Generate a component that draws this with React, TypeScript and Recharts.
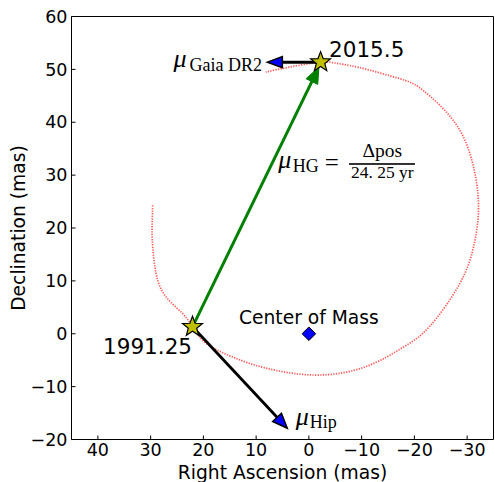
import React from 'react';
import { ScatterChart, Scatter, XAxis, YAxis, Curve } from 'recharts';

// Orbit (red dotted) — RA / Dec in mas
const orbitRA = [29.62, 29.7, 29.68, 28.98, 27.09, 24.01, 22.06, 19.52, 14.55, 8.18, -1.28, -10.74, -17.8, -22.9, -28.5, -31.22, -32.16, -31.22, -28.95, -25.17, -20.82, -17.03, -9.47, -4.74, -2.22, 3.77, 8.18];
const orbitDec = [24.3, 21.0, 17.69, 11.45, 6.98, 3.9, 1.31, -1.77, -4.36, -6.49, -7.81, -6.24, -2.6, 1.4, 9.3, 16.42, 23.98, 31.53, 37.9, 42.87, 46.65, 48.29, 50.37, 51.22, 51.37, 50.42, 49.48];

// Epoch positions
const epochLabels = ['1991.25', '2015.5'];
const epochRA = [22.06, -2.22];
const epochDec = [1.31, 51.37];

// Center of mass
const comRA = [0];
const comDec = [0];

// Proper-motion arrows (start, tip)
const hipRA = [22.06, 4.09];
const hipDec = [1.31, -17.88];
const gaiaRA = [-2.22, 7.87];
const gaiaDec = [51.37, 51.37];
const hgRA = [22.06, -1.9];
const hgDec = [1.31, 50.42];

// Math annotation anchors
const annotationKeys = ['gaia', 'hip', 'hg'];
const annotationRA = [26.14, 2.5, 5.8];
const annotationDec = [50.45, -17.26, 31.35];

const xTicks = [-30, -20, -10, 0, 10, 20, 30, 40];
const yTicks = [-20, -10, 0, 10, 20, 30, 40, 50, 60];

const toPts = (ra: number[], dec: number[], extra?: (i: number) => object) =>
  ra.map((r, i) => ({ ra: r, dec: dec[i], ...(extra ? extra(i) : {}) }));

const orbit = toPts(orbitRA, orbitDec);
const epochs = toPts(epochRA, epochDec, (i) => ({ label: epochLabels[i] }));
const com = toPts(comRA, comDec, () => ({ label: 'Center of Mass' }));
const hip = toPts(hipRA, hipDec);
const gaia = toPts(gaiaRA, gaiaDec);
const hg = toPts(hgRA, hgDec);
const annotations = toPts(annotationRA, annotationDec, (i) => ({ key: annotationKeys[i] }));

const SANS = "'DejaVu Sans', sans-serif";
const SERIF = "'Liberation Serif', 'DejaVu Serif', serif";

const fmt = (v: number) => (v < 0 ? '\u2212' + Math.abs(v) : String(v));
const tickStyle = { fontSize: 17.5, fill: '#000', fontFamily: SANS };

const Empty = () => <g />;

const OrbitLine = (props: any) => {
  const pts = props.points;
  if (!pts || pts.length < 2) return <g />;
  return (
    <Curve
      points={pts}
      type="natural"
      fill="none"
      stroke="#ff3030"
      strokeWidth={1.7}
      strokeDasharray="1.3 1.3"
      strokeOpacity={0.8}
    />
  );
};

type ArrowOpts = {
  shaft: string;
  width: number;
  headLen: number;
  headHalf: number;
  headFill: string;
  headStroke: string;
  headStrokeWidth: number;
};

const makeArrow = (o: ArrowOpts) => (props: any) => {
  const pts = props.points;
  if (!pts || pts.length < 2) return <g />;
  const p0 = pts[0];
  const p1 = pts[1];
  const dx = p1.x - p0.x;
  const dy = p1.y - p0.y;
  const len = Math.hypot(dx, dy) || 1;
  const ux = dx / len;
  const uy = dy / len;
  const bx = p1.x - ux * o.headLen;
  const by = p1.y - uy * o.headLen;
  const nx = -uy;
  const ny = ux;
  const w = o.headHalf;
  return (
    <g>
      <line x1={p0.x} y1={p0.y} x2={bx + ux} y2={by + uy} stroke={o.shaft} strokeWidth={o.width} />
      <polygon
        points={`${p1.x},${p1.y} ${bx + nx * w},${by + ny * w} ${bx - nx * w},${by - ny * w}`}
        fill={o.headFill}
        stroke={o.headStroke}
        strokeWidth={o.headStrokeWidth}
        strokeLinejoin="miter"
      />
    </g>
  );
};

const hipArrow = makeArrow({ shaft: '#000', width: 2.8, headLen: 15, headHalf: 6, headFill: '#0000ff', headStroke: '#000', headStrokeWidth: 1.5 });
const gaiaArrow = makeArrow({ shaft: '#000', width: 3, headLen: 15, headHalf: 5.5, headFill: '#0000ff', headStroke: '#000', headStrokeWidth: 1.5 });
const hgArrow = makeArrow({ shaft: '#008000', width: 3, headLen: 16, headHalf: 6.5, headFill: '#008000', headStroke: '#008000', headStrokeWidth: 1 });

const epochLabelStyle: Record<string, { dx: number; dy: number; anchor: 'start' | 'end' }> = {
  '1991.25': { dx: -0.5, dy: 27.5, anchor: 'end' },
  '2015.5': { dx: 8.5, dy: -5.5, anchor: 'start' },
};

const StarShape = (props: any) => {
  const { cx, cy, payload } = props;
  if (cx == null || cy == null) return <g />;
  const R = 10.5;
  const r = R * 0.42;
  const pts: string[] = [];
  for (let k = 0; k < 10; k++) {
    const rad = k % 2 === 0 ? R : r;
    const a = -Math.PI / 2 + (k * Math.PI) / 5;
    pts.push(`${cx + rad * Math.cos(a)},${cy + rad * Math.sin(a)}`);
  }
  const st = epochLabelStyle[payload.label] || { dx: 10, dy: 0, anchor: 'start' };
  return (
    <g>
      <polygon points={pts.join(' ')} fill="#bfbf00" stroke="#000" strokeWidth={1.2} strokeLinejoin="miter" />
      <text x={cx + st.dx} y={cy + st.dy} textAnchor={st.anchor} fontFamily={SANS} fontSize={21.5} fill="#000">
        {payload.label}
      </text>
    </g>
  );
};

const DiamondShape = (props: any) => {
  const { cx, cy, payload } = props;
  if (cx == null || cy == null) return <g />;
  const d = 6.8;
  return (
    <g>
      <polygon points={`${cx},${cy - d} ${cx + d},${cy} ${cx},${cy + d} ${cx - d},${cy}`} fill="#0000ff" stroke="#000" strokeWidth={1} />
      <text x={cx} y={cy - 9.7} textAnchor="middle" fontFamily={SANS} fontSize={18.7} fill="#000">
        {payload.label}
      </text>
    </g>
  );
};

const MU = 26;

const MathShape = (props: any) => {
  const { cx: x, cy: y, payload } = props;
  if (x == null || y == null) return <g />;
  if (payload.key === 'gaia') {
    return (
      <g fontFamily={SERIF} fill="#000">
        <text x={x + 2.5} y={y} fontSize={MU} fontStyle="italic">μ</text>
        <text x={x + 18.5} y={y + 4.5} fontSize={18}>Gaia DR2</text>
      </g>
    );
  }
  if (payload.key === 'hip') {
    return (
      <g fontFamily={SERIF} fill="#000">
        <text x={x} y={y} fontSize={MU} fontStyle="italic">μ</text>
        <text x={x + 14} y={y + 3} fontSize={18}>Hip</text>
      </g>
    );
  }
  return (
    <g fontFamily={SERIF} fill="#000">
      <text x={x} y={y} fontSize={MU} fontStyle="italic">μ</text>
      <text x={x + 14.5} y={y + 4} fontSize={18}>HG</text>
      <text x={x + 46.5} y={y + 3.5} fontSize={25}>=</text>
      <rect x={x + 70.7} y={y - 4.8} width={66} height={1.6} fill="#000" />
      <text x={x + 104} y={y - 11} fontSize={19.5} textAnchor="middle">Δpos</text>
      <text x={x + 104} y={y + 9.7} fontSize={17.5} textAnchor="middle">24. 25 yr</text>
    </g>
  );
};

const XTitle = (props: any) => {
  const vb = props.viewBox || { x: 71.5, y: 439.5, width: 422, height: 42.5 };
  return (
    <text x={vb.x + vb.width / 2} y={vb.y + 39.5} textAnchor="middle" fontFamily={SANS} fontSize={18.7} fill="#000">
      Right Ascension (mas)
    </text>
  );
};

const YTitle = (props: any) => {
  const vb = props.viewBox || { x: 0, y: 16.5, width: 71.5, height: 423 };
  const cx = 25;
  const cy = vb.y + vb.height / 2;
  return (
    <text x={cx} y={cy} transform={`rotate(-90, ${cx}, ${cy})`} textAnchor="middle" fontFamily={SANS} fontSize={18.7} fill="#000">
      Declination (mas)
    </text>
  );
};

export default function App() {
  return (
    <div style={{ position: 'absolute', left: 0, top: 0, width: 495, height: 482, background: '#fff' }}>
      <ScatterChart width={495} height={482} margin={{ top: 15.5, right: 0.5, bottom: 0, left: 0 }}>
        <XAxis
          xAxisId="b"
          type="number"
          dataKey="ra"
          domain={[-35, 45]}
          allowDataOverflow
          reversed
          ticks={xTicks}
          orientation="bottom"
          height={42.5}
          tickSize={-4}
          tickMargin={8.5}
          tick={tickStyle}
          tickFormatter={fmt}
          stroke="#000"
          interval={0}
          label={<XTitle />}
        />
        <XAxis
          xAxisId="t"
          type="number"
          dataKey="ra"
          domain={[-35, 45]}
          allowDataOverflow
          reversed
          ticks={xTicks}
          orientation="top"
          height={1}
          tickSize={-4}
          tick={false}
          stroke="#000"
          interval={0}
        />
        <YAxis
          yAxisId="l"
          type="number"
          dataKey="dec"
          domain={[-20, 60]}
          allowDataOverflow
          ticks={yTicks}
          orientation="left"
          width={71.5}
          tickSize={-4}
          tickMargin={8}
          tick={tickStyle}
          tickFormatter={fmt}
          stroke="#000"
          interval={0}
          label={<YTitle />}
        />
        <YAxis
          yAxisId="r"
          type="number"
          dataKey="dec"
          domain={[-20, 60]}
          allowDataOverflow
          ticks={yTicks}
          orientation="right"
          width={1}
          tickSize={-4}
          tick={false}
          stroke="#000"
          interval={0}
        />
        <Scatter xAxisId="t" yAxisId="r" data={orbit} shape={Empty} isAnimationActive={false} />
        <Scatter
          xAxisId="b"
          yAxisId="l"
          data={orbit}
          shape={Empty}
          line={OrbitLine}
          lineType="joint"
          isAnimationActive={false}
        />
        <Scatter xAxisId="b" yAxisId="l" data={hg} shape={Empty} line={hgArrow} lineType="joint" isAnimationActive={false} />
        <Scatter xAxisId="b" yAxisId="l" data={hip} shape={Empty} line={hipArrow} lineType="joint" isAnimationActive={false} />
        <Scatter xAxisId="b" yAxisId="l" data={gaia} shape={Empty} line={gaiaArrow} lineType="joint" isAnimationActive={false} />
        <Scatter xAxisId="b" yAxisId="l" data={epochs} shape={StarShape} isAnimationActive={false} />
        <Scatter xAxisId="b" yAxisId="l" data={com} shape={DiamondShape} isAnimationActive={false} />
        <Scatter xAxisId="b" yAxisId="l" data={annotations} shape={MathShape} isAnimationActive={false} />
      </ScatterChart>
    </div>
  );
}
